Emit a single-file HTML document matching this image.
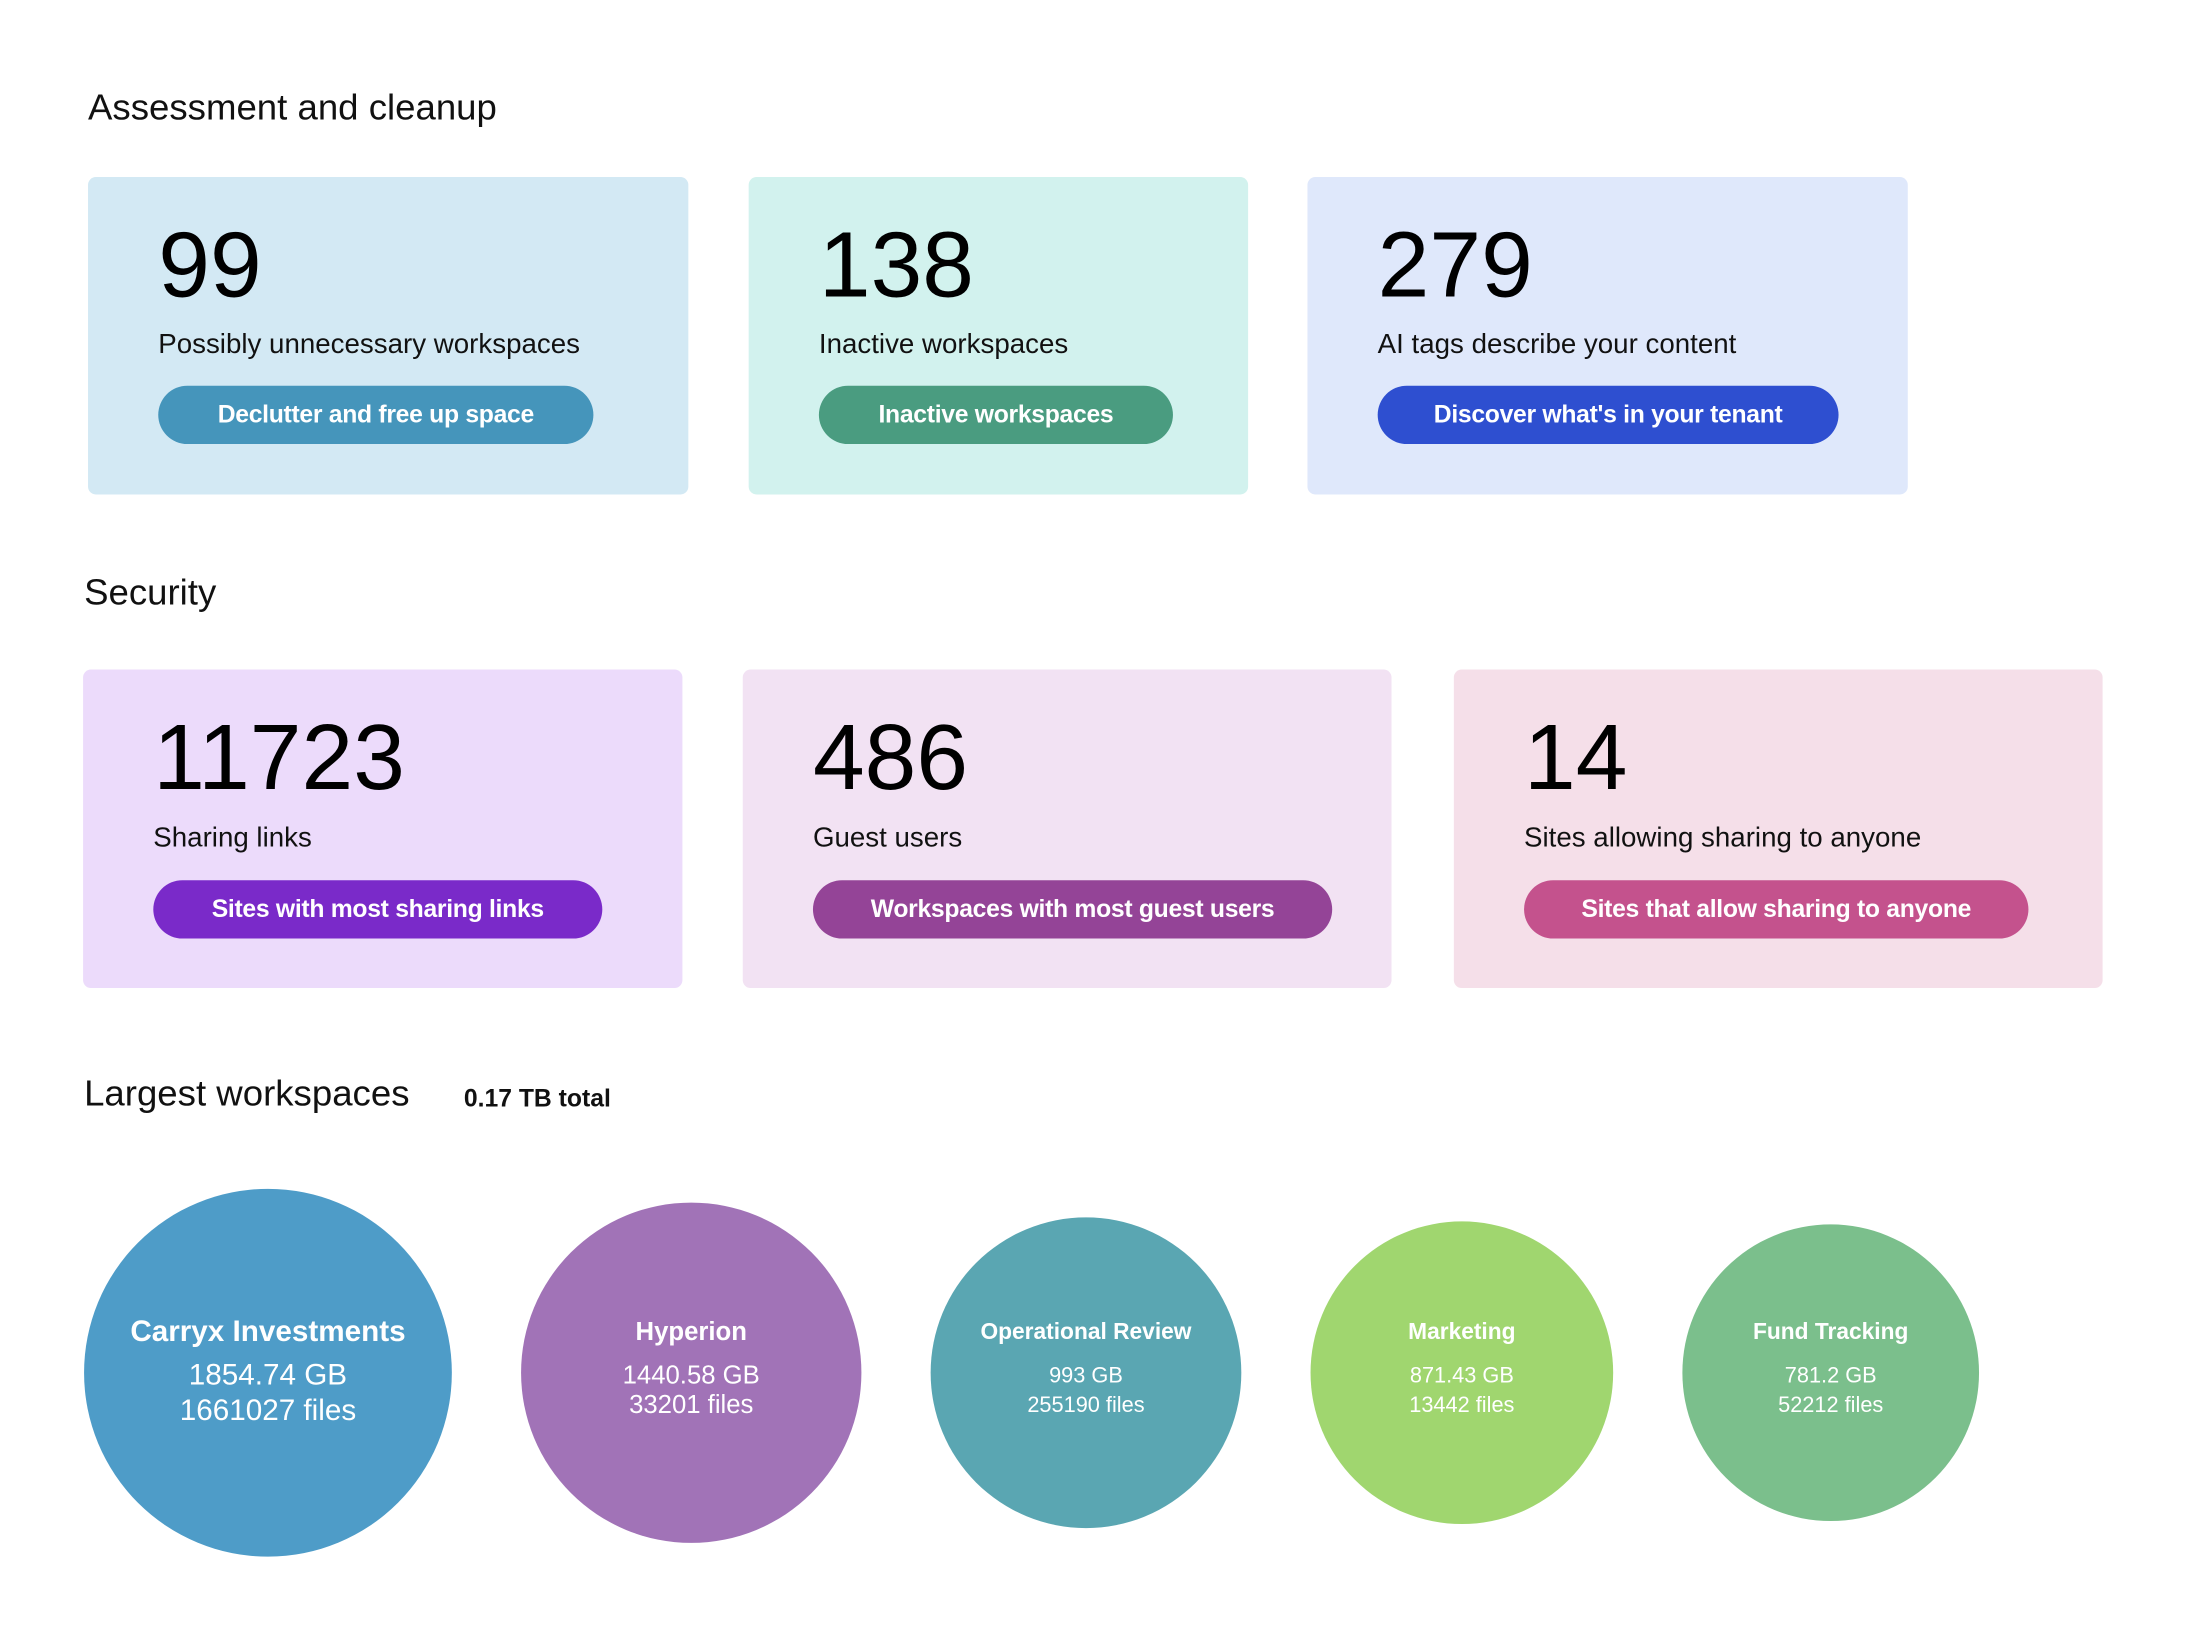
<!DOCTYPE html>
<html><head><meta charset="utf-8">
<style>
body{margin:0;width:2197px;height:1646px;background:#fff;font-family:"Liberation Sans",sans-serif;position:relative;overflow:hidden;color:#111}
#wrap{position:absolute;left:0;top:0;width:2197px;height:1646px;transform:scale(0.989);transform-origin:0 0}
.h{position:absolute;font-size:37px;font-weight:500;margin:0;line-height:1}
.card{position:absolute;border-radius:8px}
.num{position:absolute;left:71px;font-size:94px;line-height:1;color:#000}
.lbl{position:absolute;left:71px;font-size:28px;line-height:1;color:#111}
.btn{position:absolute;left:71px;height:59px;border-radius:30px;color:#fff;font-size:25px;font-weight:bold;display:flex;align-items:center;justify-content:center;letter-spacing:-0.3px}
</style></head><body>
<div id="wrap">
<h2 class="h" style="left:89px;top:90px">Assessment and cleanup</h2>

<div class="card" style="left:89px;top:179px;width:607px;height:321px;background:#d3e9f4">
<div class="num" style="top:42px">99</div>
<div class="lbl" style="top:155px">Possibly unnecessary workspaces</div>
<div class="btn" style="top:211px;width:440px;background:#4595bb">Declutter and free up space</div>
</div>
<div class="card" style="left:757px;top:179px;width:505px;height:321px;background:#d2f2ee">
<div class="num" style="top:42px">138</div>
<div class="lbl" style="top:155px">Inactive workspaces</div>
<div class="btn" style="top:211px;width:358px;background:#4a9c80">Inactive workspaces</div>
</div>
<div class="card" style="left:1322px;top:179px;width:607px;height:321px;background:#dfe8fb">
<div class="num" style="top:42px">279</div>
<div class="lbl" style="top:155px">AI tags describe your content</div>
<div class="btn" style="top:211px;width:466px;background:#2e4fd0">Discover what's in your tenant</div>
</div>

<h2 class="h" style="left:85px;top:580px">Security</h2>

<div class="card" style="left:84px;top:677px;width:606px;height:322px;background:#ecdbfb">
<div class="num" style="top:42px">11723</div>
<div class="lbl" style="top:156px">Sharing links</div>
<div class="btn" style="top:213px;width:454px;background:#7a2ac9">Sites with most sharing links</div>
</div>
<div class="card" style="left:751px;top:677px;width:656px;height:322px;background:#f2e2f3">
<div class="num" style="top:42px">486</div>
<div class="lbl" style="top:156px">Guest users</div>
<div class="btn" style="top:213px;width:525px;background:#944497">Workspaces with most guest users</div>
</div>
<div class="card" style="left:1470px;top:677px;width:656px;height:322px;background:#f5dfe9">
<div class="num" style="top:42px">14</div>
<div class="lbl" style="top:156px">Sites allowing sharing to anyone</div>
<div class="btn" style="top:213px;width:510px;background:#c4528d">Sites that allow sharing to anyone</div>
</div>

<h2 class="h" style="left:85px;top:1087px">Largest workspaces</h2>
<div style="position:absolute;left:469px;top:1097px;font-size:25px;font-weight:bold">0.17 TB total</div>

<svg id="bubbles" style="position:absolute;left:0;top:0" width="2197" height="1646"></svg>
</div>
<script>
const names=["Carryx Investments","Hyperion","Operational Review","Marketing","Fund Tracking"];
const sizesGB=[1854.74,1440.58,993,871.43,781.2];
const fileCounts=[1661027,33201,255190,13442,52212];
const colors=["#4e9cc8","#a173b7","#5aa6b2","#a0d66f","#7bbf8c"];
const svg=document.getElementById('bubbles');
const NS="http://www.w3.org/2000/svg";
function rScale(v){return 123.8+0.0335*v;}
let x=85;const cy=1388;
sizesGB.forEach((v,i)=>{
  const r=rScale(v);const cx=x+r;x=cx+r+70;
  const g=document.createElementNS(NS,'g');
  
  
  const c=document.createElementNS(NS,'circle');
  c.setAttribute('cx',cx);c.setAttribute('cy',cy);c.setAttribute('r',r);c.setAttribute('fill',colors[i]);
  
  
  g.appendChild(c);
  const big=i===0;const fs=big?30:(i===1?26:23);const vs=big?30:(i===1?26:22);
  const lines=[[names[i],fs,'bold',cy-40],[v+" GB",vs,'normal',cy+4],[fileCounts[i]+" files",vs,'normal',cy+(big?40:34)]];
  lines.forEach(l=>{
    const t=document.createElementNS(NS,'text');
    t.setAttribute('x',cx);t.setAttribute('y',l[3]);t.setAttribute('text-anchor','middle');t.setAttribute('dominant-baseline','middle');
    t.setAttribute('font-size',l[1]);t.setAttribute('font-weight',l[2]);t.setAttribute('fill','#fff');
    t.setAttribute('font-family','Liberation Sans, sans-serif');
    
    
    t.textContent=l[0];g.appendChild(t);
  });
  svg.appendChild(g);
});
</script>
</body></html>
